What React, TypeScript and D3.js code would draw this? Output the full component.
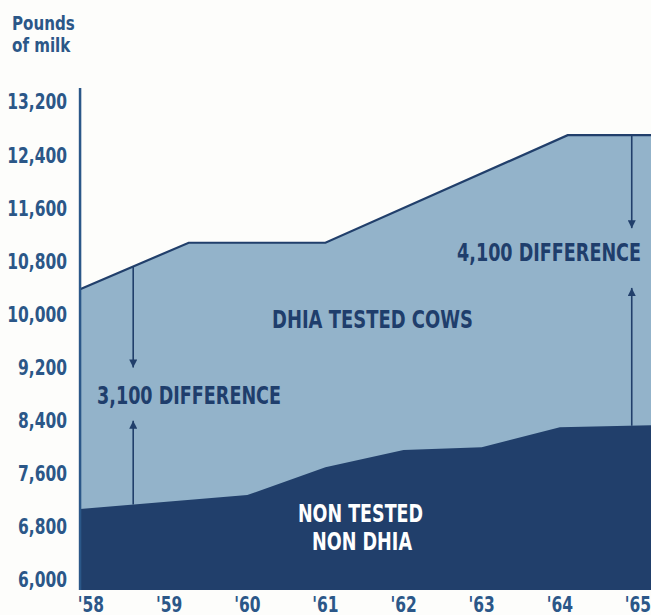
import React from 'react';
import * as d3 from 'd3';

// x axis labels
const years = [1958, 1959, 1960, 1961, 1962, 1963, 1964, 1965];
const yearLabels = ["'58", "'59", "'60", "'61", "'62", "'63", "'64", "'65"];
const yTicks = [6000, 6800, 7600, 8400, 9200, 10000, 10800, 11600, 12400, 13200];

// DHIA tested cows (upper line)
const testedYears = [1957.86, 1959.25, 1961, 1964.1, 1965.17];
const testedValues = [10380, 11080, 11080, 12700, 12700];

// non tested, non DHIA (lower line)
const nonTestedYears = [1957.86, 1960, 1961, 1962, 1963, 1964, 1965.17];
const nonTestedValues = [7070, 7280, 7700, 7960, 8000, 8300, 8330];

// difference arrows: year, value where the down arrow stops, value of the up arrow tip
const arrowYears = [1958.54, 1964.92];
const arrowDownTo = [9200, 11300];
const arrowUpTo = [8400, 10400];

const W = 651;
const H = 615;
const DARK = '#213f6b';
const LIGHT = '#93b3ca';
const TEXT = '#1f3e6c';
const TICK = '#2b5788';
const FONT = '"DejaVu Sans Condensed", "Liberation Sans", sans-serif';
const SQUEEZE = 0.84;

const x = d3.scaleLinear().domain([1958, 1965]).range([91, 638]);
const y = d3.scaleLinear().domain([5850, 13200]).range([590, 102]);
const xMin = testedYears[0];
const yBase = 5850;

type Pt = [number, number];
const tested: Pt[] = testedYears.map((t, i) => [t, testedValues[i]]);
const nonTested: Pt[] = nonTestedYears.map((t, i) => [t, nonTestedValues[i]]);

const interp = (pts: Pt[], t: number) => {
  for (let i = 1; i < pts.length; i++) {
    if (t <= pts[i][0]) {
      const [t0, v0] = pts[i - 1];
      const [t1, v1] = pts[i];
      return v0 + ((t - t0) / (t1 - t0)) * (v1 - v0);
    }
  }
  return pts[pts.length - 1][1];
};

const area = d3
  .area<Pt>()
  .x((d) => x(d[0]))
  .y0(y(yBase))
  .y1((d) => y(d[1]));
const line = d3
  .line<Pt>()
  .x((d) => x(d[0]))
  .y((d) => y(d[1]));

// narrow text: the original face is much more condensed than anything installed
const Narrow = ({ x, y, anchor = 'start', size, fill, children, dy }: any) => (
  <g transform={`translate(${x},${y}) scale(${SQUEEZE},1)`}>
    <text textAnchor={anchor} fontSize={size} fill={fill} dy={dy}>
      {children}
    </text>
  </g>
);

export default function App() {
  return (
    <svg
      width={W}
      height={H}
      style={{ position: 'absolute', left: 0, top: 0, background: '#fdfdfb' }}
      fontFamily={FONT}
      fontWeight="bold"
    >
      <defs>
        <marker id="head" viewBox="0 0 10 10" refX="10" refY="5" markerWidth="9" markerHeight="8"
          markerUnits="userSpaceOnUse" orient="auto">
          <path d="M0,0 L10,5 L0,10 Z" fill={DARK} />
        </marker>
      </defs>

      {/* title */}
      <Narrow x={12} y={30} size={20} fill={TICK}>Pounds</Narrow>
      <Narrow x={12} y={52} size={20} fill={TICK}>of milk</Narrow>

      {/* areas */}
      <path d={area(tested) ?? ''} fill={LIGHT} />
      <path d={area(nonTested) ?? ''} fill={DARK} />
      <path d={line(tested) ?? ''} fill="none" stroke={DARK} strokeWidth={2.2} />

      {/* axis line */}
      <line x1={x(xMin)} x2={x(xMin)} y1={88} y2={y(yBase)} stroke={TICK} strokeWidth={2.5} />

      {/* y ticks */}
      {yTicks.map((v) => (
        <Narrow key={v} x={67} y={y(v)} dy="0.36em" anchor="end" size={20.5} fill={TICK}>
          {d3.format(',')(v)}
        </Narrow>
      ))}

      {/* x labels */}
      {years.map((yr, i) => (
        <Narrow key={yr} x={x(yr)} y={612} anchor="middle" size={20.5} fill={TICK}>
          {yearLabels[i]}
        </Narrow>
      ))}

      {/* difference arrows */}
      {arrowYears.map((t, i) => (
        <g key={t} stroke={DARK} strokeWidth={1.6}>
          <line x1={x(t)} x2={x(t)} y1={y(interp(tested, t))} y2={y(arrowDownTo[i])} markerEnd="url(#head)" />
          <line x1={x(t)} x2={x(t)} y1={y(interp(nonTested, t))} y2={y(arrowUpTo[i])} markerEnd="url(#head)" />
        </g>
      ))}

      {/* labels */}
      <text x={97} y={404} fontSize={25} fill={TEXT} textLength={184} lengthAdjust="spacingAndGlyphs">
        3,100  DIFFERENCE
      </text>
      <text x={457} y={261} fontSize={25} fill={TEXT} textLength={184} lengthAdjust="spacingAndGlyphs">
        4,100  DIFFERENCE
      </text>
      <text x={272} y={328} fontSize={24} fill={TEXT} textLength={201} lengthAdjust="spacingAndGlyphs">
        DHIA  TESTED  COWS
      </text>
      <text x={298} y={522} fontSize={25} fill="#ffffff" textLength={125} lengthAdjust="spacingAndGlyphs">
        NON TESTED
      </text>
      <text x={312} y={550} fontSize={25} fill="#ffffff" textLength={100} lengthAdjust="spacingAndGlyphs">
        NON DHIA
      </text>
    </svg>
  );
}
